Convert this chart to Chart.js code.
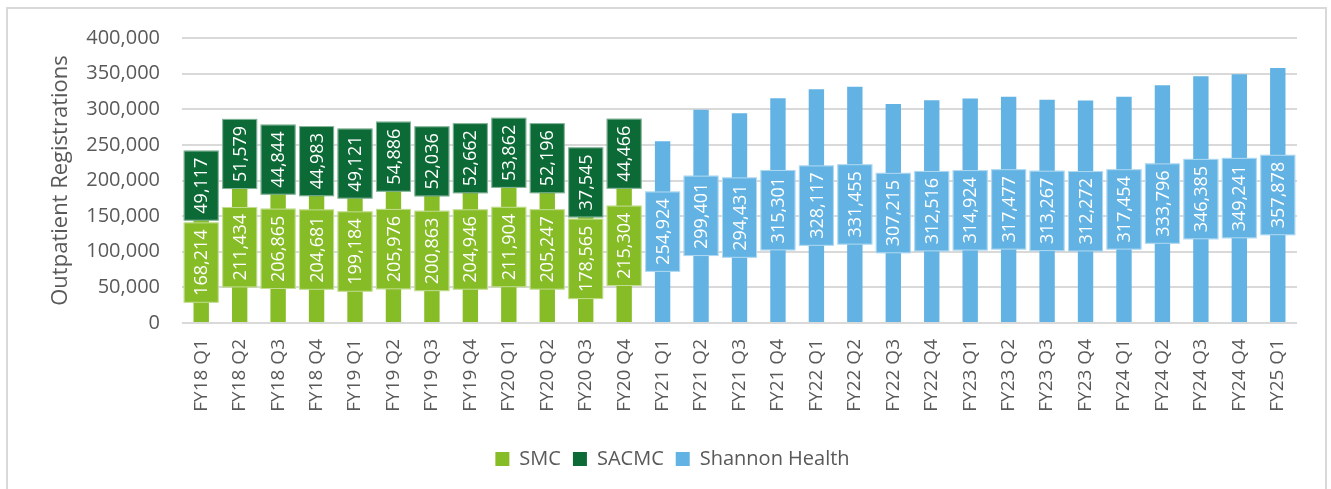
<!DOCTYPE html>
<html>
<head>
<meta charset="utf-8">
<script src="https://cdn.jsdelivr.net/npm/chart.js@4.4.1/dist/chart.umd.min.js"></script>
<style>
  html, body { margin: 0; padding: 0; background: #fff; overflow: hidden; }
  #wrap { position: relative; width: 1331px; height: 489px; }
  #frame {
    position: absolute; left: 6px; top: 7px; width: 1317px; height: 500px;
    border: 2px solid #d9d9d9; border-bottom: none;
  }
  canvas { position: absolute; left: 0; top: 0; }
</style>
</head>
<body>
<div id="wrap">
  <div id="frame"></div>
  <canvas id="myChart" width="1331" height="489"></canvas>
</div>
<script>
const quarters = [
  "FY18 Q1", "FY18 Q2", "FY18 Q3", "FY18 Q4",
  "FY19 Q1", "FY19 Q2", "FY19 Q3", "FY19 Q4",
  "FY20 Q1", "FY20 Q2", "FY20 Q3", "FY20 Q4",
  "FY21 Q1", "FY21 Q2", "FY21 Q3", "FY21 Q4",
  "FY22 Q1", "FY22 Q2", "FY22 Q3", "FY22 Q4",
  "FY23 Q1", "FY23 Q2", "FY23 Q3", "FY23 Q4",
  "FY24 Q1", "FY24 Q2", "FY24 Q3", "FY24 Q4",
  "FY25 Q1",
];

const smc = [
  168214, 211434, 206865, 204681, 199184, 205976, 200863, 204946,
  211904, 205247, 178565, 215304,
];
const sacmc = [
  49117, 51579, 44844, 44983, 49121, 54886, 52036, 52662,
  53862, 52196, 37545, 44466,
];
const shannon = [
  254924, 299401, 294431, 315301, 328117, 331455, 307215, 312516,
  314924, 317477, 313267, 312272, 317454, 333796, 346385, 349241,
  357878,
];

const yTicks = [0, 50000, 100000, 150000, 200000, 250000, 300000, 350000, 400000];

const gap = (n) => new Array(n).fill(null);
const textColor = "#595959";
const font = "'Open Sans', sans-serif";

// value labels: a box in the bar colour, white text turned upright
const boxLabels = {
  id: "boxLabels",
  afterDatasetsDraw(chart) {
    const ctx = chart.ctx;
    chart.data.datasets.forEach((ds, i) => {
      const meta = chart.getDatasetMeta(i);
      meta.data.forEach((bar, j) => {
        const v = ds.data[j];
        if (v == null) return;
        const txt = v.toLocaleString("en-US");
        const cy = (bar.y + bar.base) / 2;
        ctx.save();
        ctx.font = "18px " + font;
        const w = ctx.measureText(txt).width;
        const bh = w + 14;
        const bw = 35;
        ctx.fillStyle = ds.backgroundColor;
        ctx.fillRect(bar.x - bw / 2, cy - bh / 2, bw, bh);
        ctx.strokeStyle = "rgba(255,255,255,0.5)";
        ctx.lineWidth = 1;
        ctx.strokeRect(bar.x - bw / 2 + 0.5, cy - bh / 2 + 0.5, bw - 1, bh - 1);
        ctx.translate(bar.x, cy);
        ctx.rotate(-Math.PI / 2);
        ctx.fillStyle = "#fff";
        ctx.textAlign = "center";
        ctx.textBaseline = "middle";
        ctx.fillText(txt, 0, 1);
        ctx.restore();
      });
    });
  },
};

new Chart(document.getElementById("myChart"), {
  type: "bar",
  data: {
    labels: quarters,
    datasets: [
      {
        label: "SMC",
        data: smc.concat(gap(quarters.length - smc.length)),
        backgroundColor: "#86bc25",
      },
      {
        label: "SACMC",
        data: sacmc.concat(gap(quarters.length - sacmc.length)),
        backgroundColor: "#0b6a35",
      },
      {
        label: "Shannon Health",
        data: gap(quarters.length - shannon.length).concat(shannon),
        backgroundColor: "#62b3e4",
      },
    ],
  },
  options: {
    responsive: false,
    animation: false,
    devicePixelRatio: 1,
    layout: { padding: { left: 48, right: 34, top: 38, bottom: 10 } },
    datasets: { bar: { barPercentage: 0.4, categoryPercentage: 1 } },
    plugins: {
      tooltip: { enabled: false },
      legend: {
        position: "bottom",
        labels: {
          color: textColor,
          font: { family: font, size: 20 },
          boxWidth: 14,
          boxHeight: 14,
          padding: 12,
        },
      },
    },
    scales: {
      x: {
        stacked: true,
        grid: { display: false },
        border: { display: false },
        ticks: {
          color: textColor,
          font: { family: font, size: 19 },
          minRotation: 90,
          maxRotation: 90,
          padding: 8,
        },
        afterFit: (scale) => { scale.height = 114; },
      },
      y: {
        stacked: true,
        min: 0,
        max: 400000,
        afterBuildTicks: (scale) => { scale.ticks = yTicks.map((v) => ({ value: v })); },
        grid: { color: "#d9d9d9", lineWidth: 2, drawTicks: false },
        border: { display: false },
        ticks: {
          color: textColor,
          font: { family: font, size: 20 },
          padding: 22,
          callback: (v) => v.toLocaleString("en-US"),
        },
        title: {
          display: true,
          text: "Outpatient Registrations",
          color: textColor,
          font: { family: font, size: 22 },
          padding: { top: 0, bottom: 6 },
        },
        afterFit: (scale) => { scale.width = 134; },
      },
    },
  },
  plugins: [boxLabels],
});
</script>
</body>
</html>
